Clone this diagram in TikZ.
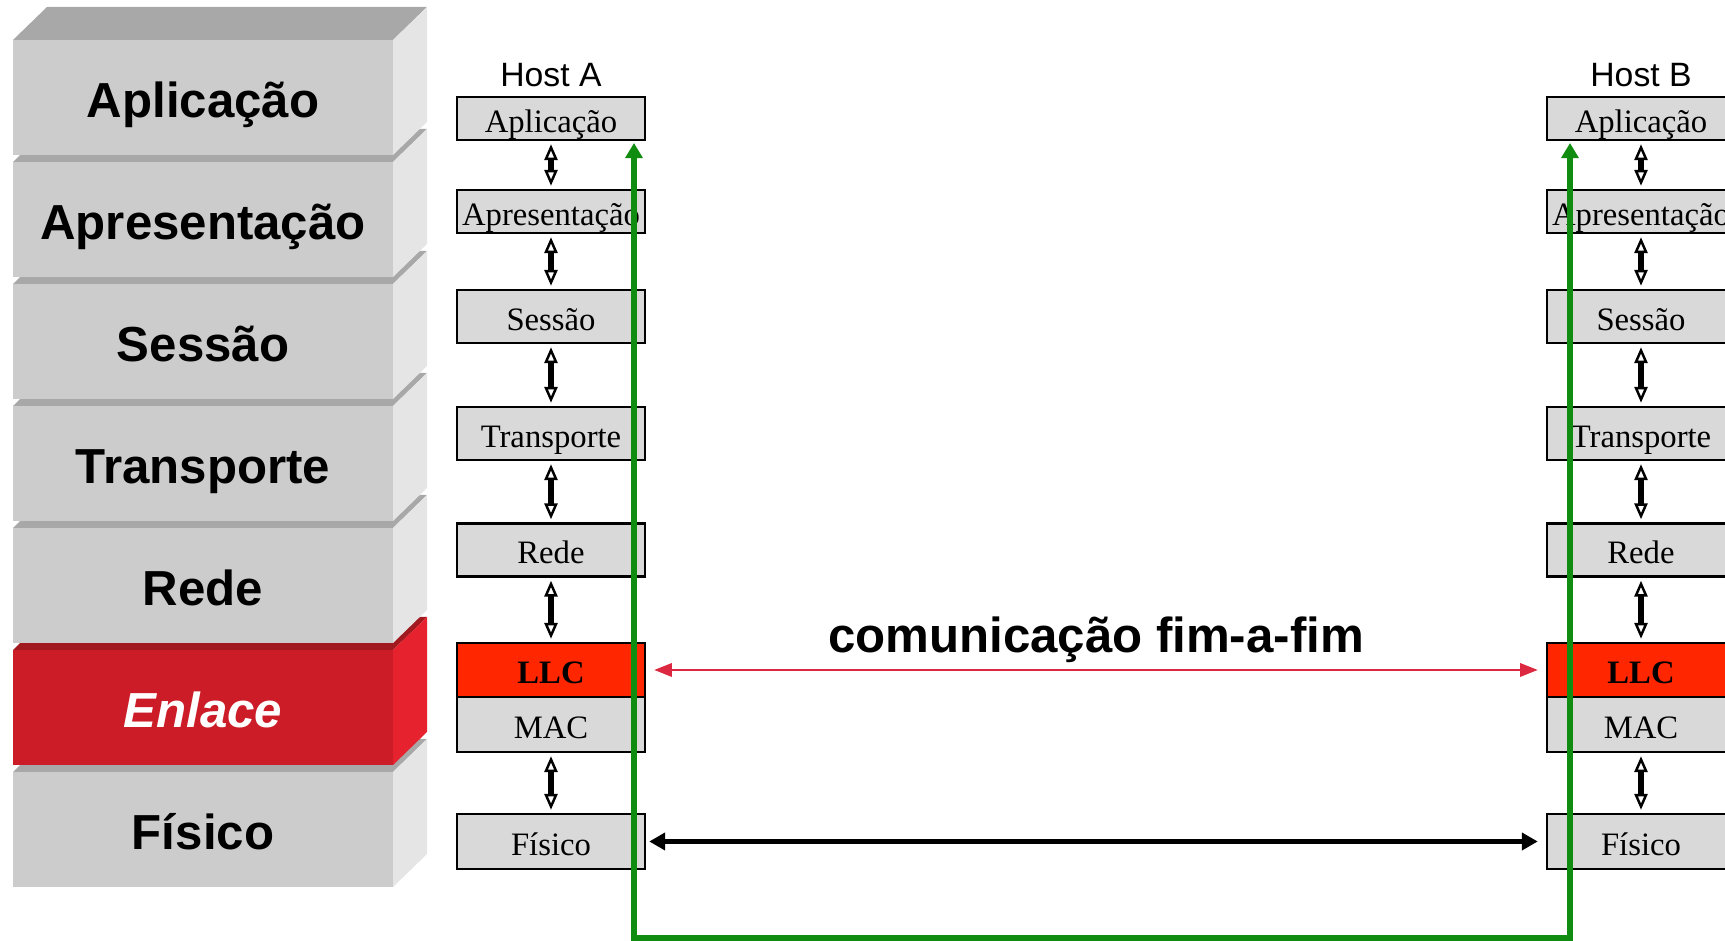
\documentclass[tikz,border=0pt]{standalone}
\usepackage{fontspec}
\setmainfont{Liberation Serif}
\newfontfamily\arialfont{Liberation Sans}
\usepackage{xcolor}
\usepackage{tikz}
\usetikzlibrary{calc, arrows.meta}

\definecolor{layerfront}{RGB}{204,204,204}
\definecolor{layerside}{RGB}{229,229,229}
\definecolor{layertop}{RGB}{168,168,168}
\definecolor{linkfront}{RGB}{204,28,40}
\definecolor{linkside}{RGB}{230,34,46}
\definecolor{linktop}{RGB}{160,26,32}
\definecolor{boxgrey}{RGB}{217,217,217}
\definecolor{llcred}{RGB}{255,38,0}
\definecolor{peerred}{RGB}{220,40,64}
\definecolor{pathgreen}{RGB}{16,140,16}

\tikzset{
    osilabel/.style={font=\arialfont\fontsize{14}{16}\selectfont\bfseries, anchor=base},
    hostlabel/.style={font=\arialfont\fontsize{9.6}{11}\selectfont, anchor=base},
    hostbox/.style={draw, line width=0.7pt, fill=boxgrey, minimum width=1.88cm, minimum height=#1,
        inner sep=0pt, text height=8.7pt, text depth=1.0pt, font=\fontsize{9.3}{11}\selectfont},
    llcbox/.style={hostbox=#1, fill=llcred, font=\fontsize{9.3}{11}\selectfont\bfseries},
    updown/.style={{Triangle[open, length=4.5pt, width=3.7pt, line width=0.7pt]}-{Triangle[open, length=4.5pt, width=3.7pt, line width=0.7pt]},
        line width=1.5pt, shorten <=0.03cm, shorten >=0.03cm},
    peerlink/.style={{Triangle[length=5pt, width=3.8pt]}-{Triangle[length=5pt, width=3.8pt]},
        draw=peerred, line width=0.6pt, shorten <=0.08cm, shorten >=0.08cm},
    physlink/.style={{Triangle[length=4.5pt, width=4.8pt]}-{Triangle[length=4.5pt, width=4.8pt]},
        line width=1.4pt, shorten <=0.03cm, shorten >=0.08cm},
    greenpath/.style={{Triangle[length=4.3pt, width=4.8pt]}-{Triangle[length=4.3pt, width=4.8pt]},
        draw=pathgreen, line width=1.6pt}
}

\begin{document}
\begin{tikzpicture}
    \useasboundingbox (0.0, 0.0) rectangle (17.25, 9.41);

    % OSI stack, from the bottom up
    \begin{scope}[shift={(0.13, 0.54)}]
        \fill[layertop] (0.0, 1.15) -- (0.34, 1.48) -- (4.14, 1.48) -- (3.80, 1.15) -- cycle;
        \fill[layerside] (3.80, 0.0) -- (4.14, 0.33) -- (4.14, 1.48) -- (3.80, 1.15) -- cycle;
        \fill[layerfront] (0.0, 0.0) rectangle (3.80, 1.15);
        \node[osilabel] (fisico) at (1.90, 0.37) {Físico};
    \end{scope}

    \begin{scope}[shift={(0.13, 1.76)}]
        \fill[linktop] (0.0, 1.15) -- (0.34, 1.48) -- (4.14, 1.48) -- (3.80, 1.15) -- cycle;
        \fill[linkside] (3.80, 0.0) -- (4.14, 0.33) -- (4.14, 1.48) -- (3.80, 1.15) -- cycle;
        \fill[linkfront] (0.0, 0.0) rectangle (3.80, 1.15);
        \node[osilabel, text=white, font=\arialfont\fontsize{14}{16}\selectfont\bfseries\itshape] (enlace) at (1.90, 0.37) {Enlace};
    \end{scope}

    \begin{scope}[shift={(0.13, 2.98)}]
        \fill[layertop] (0.0, 1.15) -- (0.34, 1.48) -- (4.14, 1.48) -- (3.80, 1.15) -- cycle;
        \fill[layerside] (3.80, 0.0) -- (4.14, 0.33) -- (4.14, 1.48) -- (3.80, 1.15) -- cycle;
        \fill[layerfront] (0.0, 0.0) rectangle (3.80, 1.15);
        \node[osilabel] (rede) at (1.90, 0.37) {Rede};
    \end{scope}

    \begin{scope}[shift={(0.13, 4.20)}]
        \fill[layertop] (0.0, 1.15) -- (0.34, 1.48) -- (4.14, 1.48) -- (3.80, 1.15) -- cycle;
        \fill[layerside] (3.80, 0.0) -- (4.14, 0.33) -- (4.14, 1.48) -- (3.80, 1.15) -- cycle;
        \fill[layerfront] (0.0, 0.0) rectangle (3.80, 1.15);
        \node[osilabel] (transporte) at (1.90, 0.37) {Transporte};
    \end{scope}

    \begin{scope}[shift={(0.13, 5.42)}]
        \fill[layertop] (0.0, 1.15) -- (0.34, 1.48) -- (4.14, 1.48) -- (3.80, 1.15) -- cycle;
        \fill[layerside] (3.80, 0.0) -- (4.14, 0.33) -- (4.14, 1.48) -- (3.80, 1.15) -- cycle;
        \fill[layerfront] (0.0, 0.0) rectangle (3.80, 1.15);
        \node[osilabel] (sessao) at (1.90, 0.37) {Sessão};
    \end{scope}

    \begin{scope}[shift={(0.13, 6.64)}]
        \fill[layertop] (0.0, 1.15) -- (0.34, 1.48) -- (4.14, 1.48) -- (3.80, 1.15) -- cycle;
        \fill[layerside] (3.80, 0.0) -- (4.14, 0.33) -- (4.14, 1.48) -- (3.80, 1.15) -- cycle;
        \fill[layerfront] (0.0, 0.0) rectangle (3.80, 1.15);
        \node[osilabel] (apresentacao) at (1.90, 0.37) {Apresentação};
    \end{scope}

    \begin{scope}[shift={(0.13, 7.86)}]
        \fill[layertop] (0.0, 1.15) -- (0.34, 1.48) -- (4.14, 1.48) -- (3.80, 1.15) -- cycle;
        \fill[layerside] (3.80, 0.0) -- (4.14, 0.33) -- (4.14, 1.48) -- (3.80, 1.15) -- cycle;
        \fill[layerfront] (0.0, 0.0) rectangle (3.80, 1.15);
        \node[osilabel] (aplicacao) at (1.90, 0.37) {Aplicação};
    \end{scope}

    % Host A
    \node[hostlabel] (hostA) at (5.51, 8.54) {Host A};
    \node[hostbox=0.43cm] (apA) at (5.51, 8.225) {Aplicação};
    \node[hostbox=0.43cm] (aprA) at (5.51, 7.295) {Apresentação};
    \node[hostbox=0.53cm] (sesA) at (5.51, 6.245) {Sessão};
    \node[hostbox=0.53cm] (traA) at (5.51, 5.075) {Transporte};
    \node[hostbox=0.53cm] (redeA) at (5.51, 3.91) {Rede};
    \node[llcbox=0.54cm] (llcA) at (5.51, 2.71) {LLC};
    \node[hostbox=0.55cm] (macA) at (5.51, 2.165) {MAC};
    \node[hostbox=0.55cm] (fisA) at (5.51, 0.995) {Físico};

    \draw[updown] (apA) -- (aprA);
    \draw[updown] (aprA) -- (sesA);
    \draw[updown] (sesA) -- (traA);
    \draw[updown] (traA) -- (redeA);
    \draw[updown] (redeA) -- (llcA);
    \draw[updown] (macA) -- (fisA);

    % Host B
    \node[hostlabel] (hostB) at (16.41, 8.54) {Host B};
    \node[hostbox=0.43cm] (apB) at (16.41, 8.225) {Aplicação};
    \node[hostbox=0.43cm] (aprB) at (16.41, 7.295) {Apresentação};
    \node[hostbox=0.53cm] (sesB) at (16.41, 6.245) {Sessão};
    \node[hostbox=0.53cm] (traB) at (16.41, 5.075) {Transporte};
    \node[hostbox=0.53cm] (redeB) at (16.41, 3.91) {Rede};
    \node[llcbox=0.54cm] (llcB) at (16.41, 2.71) {LLC};
    \node[hostbox=0.55cm] (macB) at (16.41, 2.165) {MAC};
    \node[hostbox=0.55cm] (fisB) at (16.41, 0.995) {Físico};

    \draw[updown] (apB) -- (aprB);
    \draw[updown] (aprB) -- (sesB);
    \draw[updown] (sesB) -- (traB);
    \draw[updown] (traB) -- (redeB);
    \draw[updown] (redeB) -- (llcB);
    \draw[updown] (macB) -- (fisB);

    % links between the hosts
    \draw[peerlink] (llcA) -- node[osilabel, yshift=0.17cm] (fimafim) {comunicação fim-a-fim} (llcB);
    \draw[physlink] (fisA) -- (fisB);

    \coordinate (gA) at (6.34, 7.98);
    \coordinate (gB) at (15.70, 7.98);
    \coordinate (gbot) at (6.34, 0.03);
    \draw[greenpath] (gA) -- (gA |- gbot) -- (gB |- gbot) -- (gB);
\end{tikzpicture}
\end{document}
